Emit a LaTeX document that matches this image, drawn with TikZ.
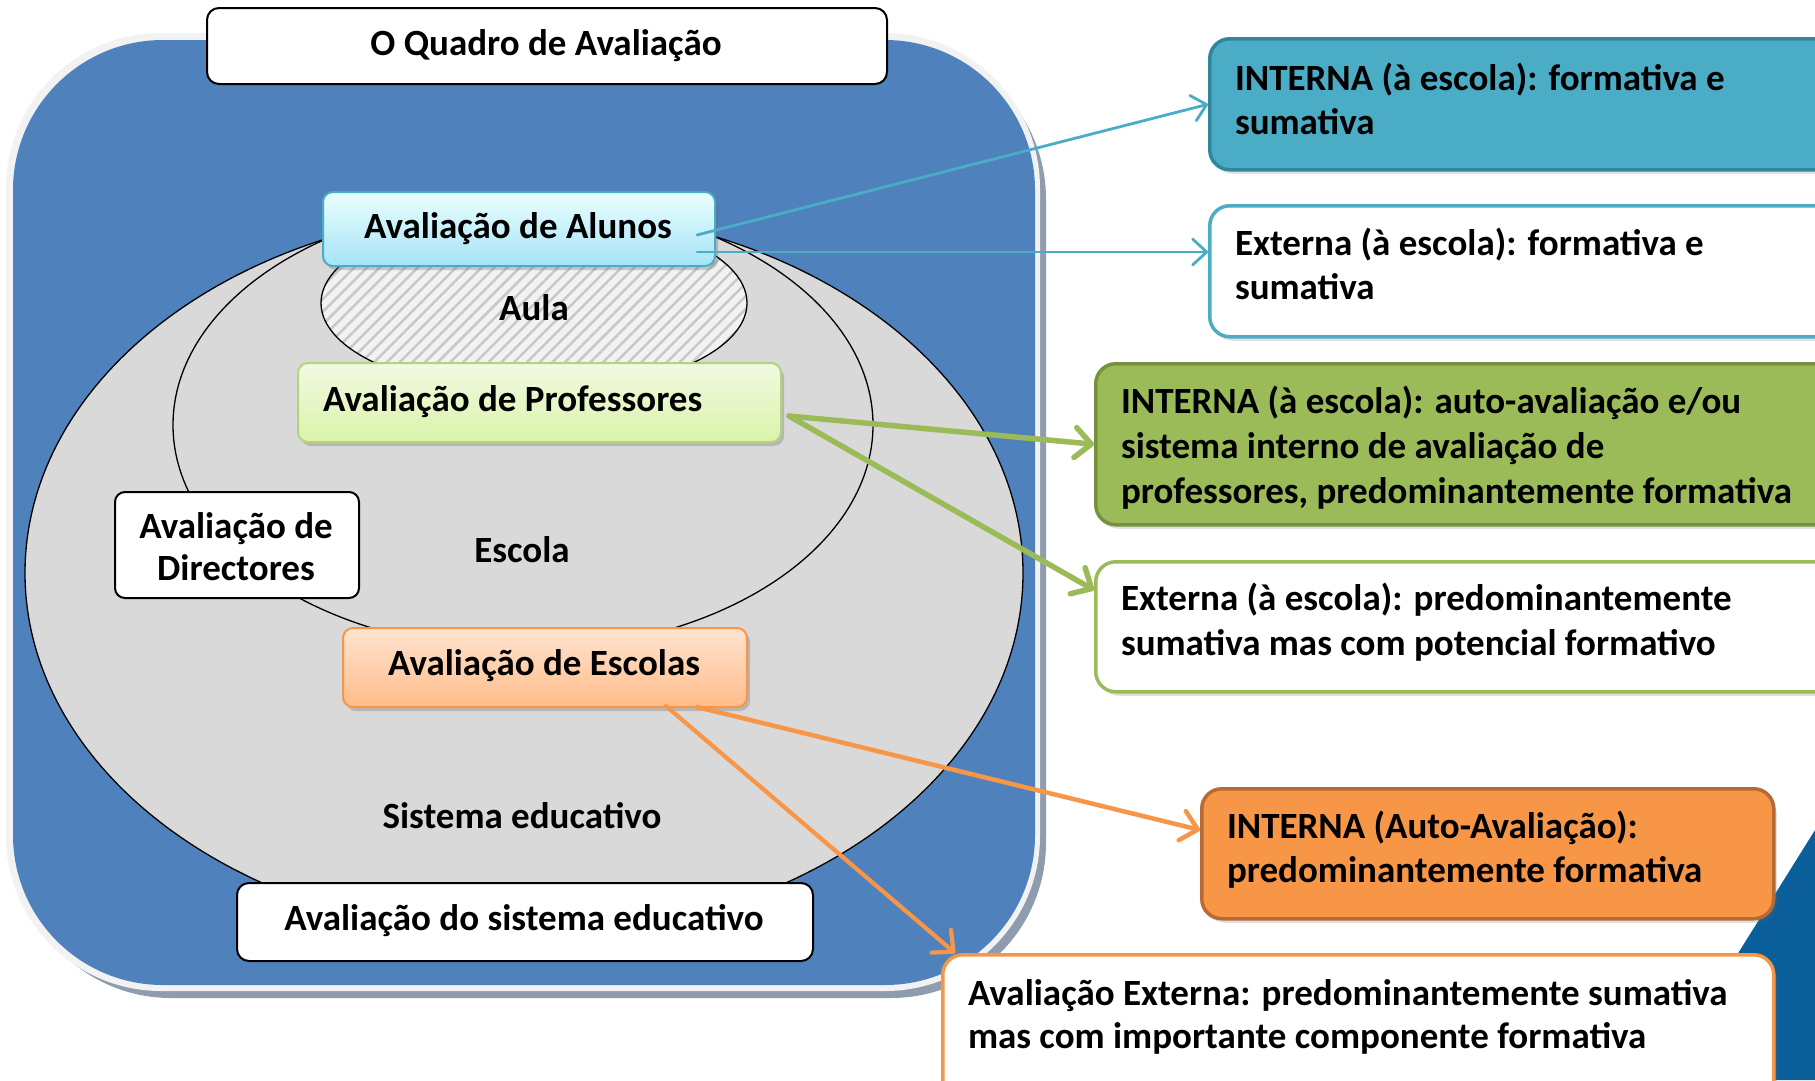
\documentclass[tikz,border=0pt]{standalone}
\usepackage{fontspec}
\setmainfont{Carlito}
\usetikzlibrary{arrows.meta,shadows,patterns.meta,calc}
\definecolor{slideblue}{HTML}{4F81BD}
\definecolor{rimgrey}{HTML}{F2F2F2}
\definecolor{shadowgrey}{HTML}{8E9CAE}
\definecolor{ellgrey}{HTML}{D9D9D9}
\definecolor{aulabg}{HTML}{F2F2F2}
\definecolor{hatchgrey}{HTML}{C8C8C8}
\definecolor{cyanb}{HTML}{4BACC6}
\definecolor{cyandark}{HTML}{31859C}
\definecolor{greenb}{HTML}{9BBB59}
\definecolor{greendark}{HTML}{76923C}
\definecolor{greenlight}{HTML}{B3D47A}
\definecolor{orangeb}{HTML}{F79646}
\definecolor{orangedark}{HTML}{B66A35}
\definecolor{navyslide}{HTML}{0A5F9A}
\newcommand\mylines[1]{\parbox[t]{760pt}{\raggedright #1}}
\begin{document}
\begin{tikzpicture}[x=1pt,y=-1pt,
  lbl/.style={inner sep=0pt, outer sep=0pt, font=\fontsize{37}{44}\selectfont\bfseries},
  wbox/.style={draw=black, line width=2pt, fill=white, rounded corners=12pt, inner sep=0pt, anchor=north west},
  gbox/.style={line width=2pt, rounded corners=10pt, inner sep=0pt, anchor=north west,
    drop shadow={shadow xshift=3pt, shadow yshift=-4pt, opacity=0.3, fill=black!60}},
  rbox/.style={line width=3.5pt, rounded corners=20pt, inner sep=0pt, anchor=north west,
    drop shadow={shadow xshift=3pt, shadow yshift=-4pt, opacity=0.2, fill=black!60}},
  bluearrow/.style={draw=cyanb, line width=2.8pt, line cap=round,
    -{Straight Barb[length=14pt,width=26pt,line cap=round,line join=round]}},
  thickarrow/.style={line width=5.5pt, line cap=round,
    -{Straight Barb[length=16pt,width=30pt,line cap=round,line join=round]}}
]
\useasboundingbox (0,0) rectangle (1815,1080);
\fill[white] (0,0) rectangle (1815,1080);

% big frame
\fill[shadowgrey, rounded corners=155pt] (16,44) rectangle (1046,998);
\fill[rimgrey, rounded corners=155pt] (6,33) rectangle (1040,991);
\fill[slideblue, rounded corners=150pt] (13,40) rectangle (1035,985);

% ellipses
\filldraw[fill=ellgrey, draw=black, line width=1.3pt] (524,573) ellipse [x radius=499, y radius=364];
\filldraw[fill=ellgrey, draw=black, line width=1.3pt] (523,425) ellipse [x radius=350, y radius=225];
\fill[aulabg] (534,303) ellipse [x radius=213, y radius=90];
\draw[pattern={Lines[angle=45,distance=9pt,line width=2.5pt]}, pattern color=hatchgrey, line width=1.3pt] (534,303) ellipse [x radius=213, y radius=90];

% left boxes
\node[wbox, minimum width=680pt, minimum height=76pt] (titlebox) at (206,7) {};
\node[lbl, anchor=base] (titletxt) at (546,55) {O Quadro de Avaliação};

\node[gbox, draw=cyanb, top color=cyan!8, bottom color={rgb,255:red,165;green,227;blue,246}, minimum width=392pt, minimum height=74pt] (alunos) at (322,191) {};
\node[lbl, anchor=base] (alunostxt) at (518,238) {Avaliação de Alunos};

\node[lbl, anchor=base] (aula) at (534,320) {Aula};

\node[gbox, draw=greenlight, top color={rgb,255:red,242;green,250;blue,226}, bottom color={rgb,255:red,218;green,243;blue,170}, minimum width=483pt, minimum height=79pt] (prof) at (297,362) {};
\node[lbl, anchor=base west] (proftxt) at (323,411) {Avaliação de Professores};

\node[wbox, rounded corners=10pt, minimum width=244pt, minimum height=106pt] (dirbox) at (114,491) {};
\node[lbl, anchor=base] (dirtxt) at (236,538) {\parbox[t]{240pt}{\centering\baselineskip=42pt Avaliação de\\Directores}};

\node[lbl, anchor=base] (escola) at (522,562) {Escola};

\node[gbox, draw=orangeb, top color={rgb,255:red,255;green,228;blue,208}, bottom color={rgb,255:red,255;green,188;blue,138}, minimum width=404pt, minimum height=79pt] (escolas) at (342,627) {};
\node[lbl, anchor=base] (escolastxt) at (544,675) {Avaliação de Escolas};

\node[lbl, anchor=base] (sistema) at (522,828) {Sistema educativo};

\node[wbox, minimum width=576pt, minimum height=78pt] (sisbox) at (236,882) {};
\node[lbl, anchor=base] (sistxt) at (524,930) {Avaliação do sistema educativo};

% dark corner shape
\fill[navyslide] (1815,830) -- (1659,1080) -- (1815,1080) -- cycle;

% right boxes
\node[rbox, draw=cyandark, fill=cyanb, minimum width=640pt, minimum height=131pt] (box1) at (1208,37) {};
\node[lbl, anchor=base west] (t1) at (1235,90) {\mylines{INTERNA (à escola): formativa e\\sumativa}};

\node[rbox, draw=cyanb, fill=white, minimum width=640pt, minimum height=131pt] (box2) at (1208,204) {};
\node[lbl, anchor=base west] (t2) at (1235,255) {\mylines{Externa (à escola): formativa e\\sumativa}};

\node[rbox, draw=greendark, fill=greenb, minimum width=760pt, minimum height=161pt] (box3) at (1094,362) {};
\node[lbl, anchor=base west] (t3) at (1121,413) {\mylines{\baselineskip=45pt INTERNA (à escola): auto-avaliação e/ou\\sistema interno de avaliação de\\professores, predominantemente formativa}};

\node[rbox, draw=greenb, fill=white, minimum width=760pt, minimum height=130pt] (box4) at (1094,560) {};
\node[lbl, anchor=base west] (t4) at (1121,610) {\mylines{\baselineskip=45pt Externa (à escola): predominantemente\\sumativa mas com potencial formativo}};

\node[rbox, draw=orangedark, fill=orangeb, minimum width=572pt, minimum height=130pt] (box5) at (1200,787) {};
\node[lbl, anchor=base west] (t5) at (1227,838) {\mylines{INTERNA (Auto-Avaliação):\\predominantemente formativa}};

\node[rbox, draw=orangeb, fill=white, minimum width=831pt, minimum height=150pt] (box6) at (941,953) {};
\node[lbl, anchor=base west] (t6) at (968,1005) {\mylines{\baselineskip=43pt Avaliação Externa: predominantemente sumativa\\mas com importante componente formativa}};

% connectors
\coordinate (a1) at (697,235);
\coordinate (a2) at (697,252);
\coordinate (gs) at (789,416);
\coordinate (o1) at (697,707);
\coordinate (o2) at (666,706);

\draw[bluearrow] (a1) -- (box1.west);
\draw[bluearrow] (a2) -- (box2.west |- a2);
\draw[thickarrow, draw=greenb] (gs) -- (box3.west);
\draw[thickarrow, draw=greenb] (gs) -- ($(box4.north west)+(0,30)$);
\draw[thickarrow, draw=orangeb, line width=4.5pt] (o1) -- ($(box5.north west)+(0,43)$);
\draw[thickarrow, draw=orangeb, line width=4.2pt] (o2) -- ($(box6.north west)+(14,0)$);
\end{tikzpicture}
\end{document}
